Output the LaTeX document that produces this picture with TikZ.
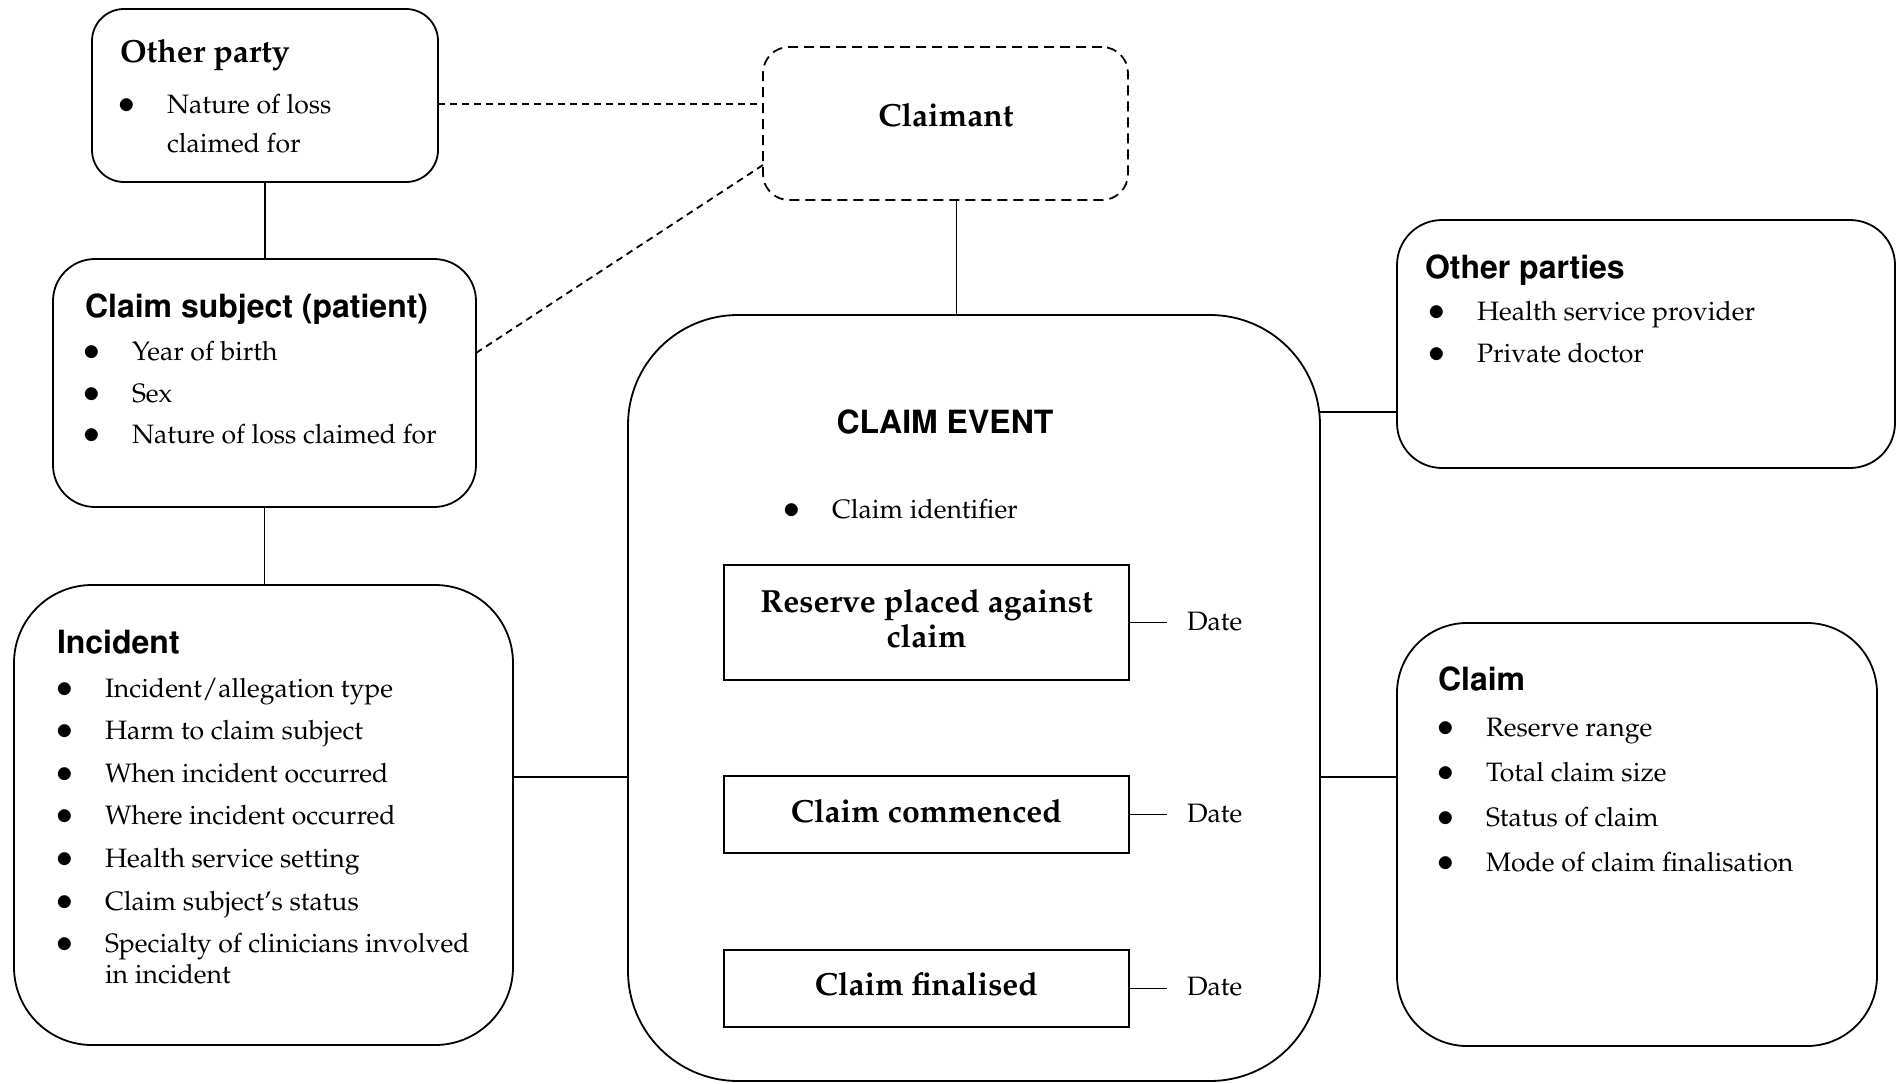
\documentclass[tikz,border=0pt]{standalone}
\usepackage[T1]{fontenc}
\usepackage{mathpazo}
\usepackage[scaled=1]{helvet}
\newcommand\hdserif{\fontsize{16}{19}\selectfont\rmfamily\bfseries}
\newcommand\hdsans{\fontsize{16}{19}\selectfont\sffamily\bfseries}
\newcommand\bodytxt{\fontsize{13.3}{16}\selectfont\rmfamily\mdseries}
\newcommand\bul{\makebox[0pt][r]{{\fontsize{16}{16}\selectfont$\bullet$}\hspace{15.5pt}}}
\tikzset{
  box/.style={draw, line width=0.9pt, inner sep=0pt, outer sep=0pt},
  rbox/.style={box, rounded corners=#1},
  sqbox/.style={box, line width=1.1pt, minimum width=202.5pt},
  txt/.style={inner sep=0pt, outer sep=0pt, anchor=base west, font=\bodytxt},
  ctxt/.style={inner sep=0pt, outer sep=0pt, anchor=base},
  link/.style={line width=0.9pt},
  dlink/.style={line width=0.9pt, dash pattern=on 3.5pt off 2.5pt},
}
\begin{document}
\begin{tikzpicture}[x=0.5pt,y=-0.5pt]
\useasboundingbox (0,0) rectangle (1903,1083);
% boxes
\node[rbox=16pt, minimum width=173pt, minimum height=86.5pt] (op) at (265,95.5) {};
\node[rbox=13pt, minimum width=182.5pt, minimum height=76.5pt, dash pattern=on 5pt off 3pt] (claimant) at (945.5,123.5) {};
\node[rbox=21pt, minimum width=211.5pt, minimum height=124pt] (cs) at (264.5,383) {};
\node[rbox=39pt, minimum width=249.5pt, minimum height=230pt] (inc) at (263.5,815) {};
\node[rbox=55pt, minimum width=346pt, minimum height=383pt] (event) at (974,698) {};
\node[rbox=22.5pt, minimum width=249pt, minimum height=124pt] (opts) at (1646,344) {};
\node[rbox=35pt, minimum width=240pt, minimum height=211.5pt] (claim) at (1637,834.5) {};
\node[sqbox, minimum height=57.5pt] (reserve) at (926.5,622.5) {};
\node[sqbox, minimum height=38.5pt] (commenced) at (926.5,814.5) {};
\node[sqbox, minimum height=38.5pt] (finalised) at (926.5,988.5) {};

% Other party
\node[txt, font=\hdserif] (opT) at (120,62) {Other party};
\node[txt] (op1) at (167,113) {\bul Nature of loss};
\node[txt] (op1b) at (167,152) {claimed for};

% Claimant
\node[ctxt, font=\hdserif] (clT) at (946,126) {Claimant};

% Claim subject
\node[txt, font=\hdsans] (csT) at (85,317) {Claim subject (patient)};
\node[txt] (cs1) at (132,360) {\bul Year of birth};
\node[txt] (cs2) at (132,402) {\bul Sex};
\node[txt] (cs3) at (132,443) {\bul Nature of loss claimed for};

% Incident
\node[txt, font=\hdsans] (incT) at (57,653) {Incident};
\node[txt] (inc1) at (105,697) {\bul Incident/allegation type};
\node[txt] (inc2) at (105,739) {\bul Harm to claim subject};
\node[txt] (inc3) at (105,782) {\bul When incident occurred};
\node[txt] (inc4) at (105,824) {\bul Where incident occurred};
\node[txt] (inc5) at (105,867) {\bul Health service setting};
\node[txt] (inc6) at (105,910) {\bul Claim subject's status};
\node[txt] (inc7) at (105,952) {\bul Specialty of clinicians involved};
\node[txt] (inc7b) at (105,983) {in incident};

% Claim event
\node[ctxt, font=\hdsans] (evT) at (945,433) {CLAIM EVENT};
\node[txt] (ev1) at (832,518) {\bul Claim identifier};
\node[ctxt, font=\hdserif] (resT1) at (926.5,612) {Reserve placed against};
\node[ctxt, font=\hdserif] (resT2) at (926.5,647) {claim};
\node[ctxt, font=\hdserif] (comT) at (926.5,822) {Claim commenced};
\node[ctxt, font=\hdserif] (finT) at (926.5,995) {Claim finalised};

% Dates
\node[txt] (d1) at (1187,630) {Date};
\node[txt] (d2) at (1187,822) {Date};
\node[txt] (d3) at (1187,995) {Date};
\draw[link] (reserve.east) -- ([xshift=-10pt]d1.west |- reserve.east);
\draw[link] (commenced.east) -- ([xshift=-10pt]d2.west |- commenced.east);
\draw[link] (finalised.east) -- ([xshift=-10pt]d3.west |- finalised.east);

% Other parties
\node[txt, font=\hdsans] (optsT) at (1425,278) {Other parties};
\node[txt] (opts1) at (1477,320) {\bul Health service provider};
\node[txt] (opts2) at (1477,362) {\bul Private doctor};

% Claim
\node[txt, font=\hdsans] (claimT) at (1438,690) {Claim};
\node[txt] (cl1) at (1486,736) {\bul Reserve range};
\node[txt] (cl2) at (1486,781) {\bul Total claim size};
\node[txt] (cl3) at (1486,826) {\bul Status of claim};
\node[txt] (cl4) at (1486,871) {\bul Mode of claim finalisation};

% connectors
\draw[link] (op.south) -- (op.south |- cs.north);
\draw[link] (cs.south) -- (cs.south |- inc.north);
\draw[dlink] ([yshift=-4.25pt]op.east) -- ([yshift=-4.25pt]op.east -| claimant.west);
\draw[dlink] ([yshift=15pt]cs.east) -- ([yshift=-20.75pt]claimant.west);
\draw[link] ([xshift=5.5pt]claimant.south) -- ([xshift=5.5pt]claimant.south |- event.north);
\draw[link] ([yshift=19pt]inc.east) -- ([yshift=19pt]inc.east -| event.west);
\draw[link] ([yshift=-34pt]opts.west) -- ([yshift=-34pt]opts.west -| event.east);
\draw[link] ([yshift=28.75pt]claim.west) -- ([yshift=28.75pt]claim.west -| event.east);
\end{tikzpicture}
\end{document}
